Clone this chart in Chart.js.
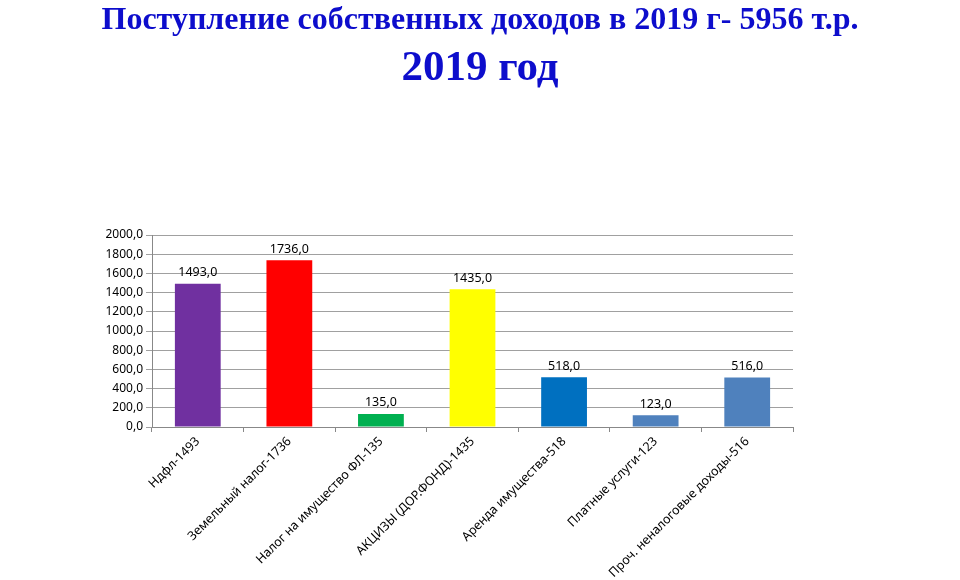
<!DOCTYPE html>
<html>
<head>
<meta charset="utf-8">
<script src="https://cdn.jsdelivr.net/npm/chart.js@4.4.0/dist/chart.umd.min.js"></script>
<style>
  html, body { margin: 0; padding: 0; background: #fff; }
  #wrap { width: 960px; height: 580px; }
</style>
</head>
<body>
<div id="wrap"><canvas id="grafico"></canvas></div>
<script>
// Данные диаграммы
const categories = [
    'Ндфл-1493',
    'Земельный налог-1736',
    'Налог на имущество ФЛ-135',
    'АКЦИЗЫ (ДОР.ФОНД)-1435',
    'Аренда имущества-518',
    'Платные услуги-123',
    'Проч. неналоговые доходы-516'
];
const values = [1493, 1736, 135, 1435, 518, 123, 516];
const barColors = ['#7030A0', '#FF0000', '#00B050', '#FFFF00', '#0070C0', '#4F81BD', '#4F81BD'];
const yTicks = [0, 200, 400, 600, 800, 1000, 1200, 1400, 1600, 1800, 2000];

const fmt = v => Number(v).toFixed(1).replace('.', ',');

// Подписи значений над столбцами
const valueLabels = {
    id: 'valueLabels',
    afterDatasetsDraw(chart) {
        const c = chart.ctx;
        const meta = chart.getDatasetMeta(0);
        c.save();
        c.font = '12.5px "Noto Sans", sans-serif';
        c.fillStyle = '#000';
        c.textAlign = 'center';
        c.textBaseline = 'bottom';
        meta.data.forEach((bar, i) => {
            c.fillText(fmt(values[i]), bar.x, bar.y - 5);
        });
        c.restore();
    }
};

const ctx = document.getElementById('grafico');
new Chart(ctx, {
    type: 'bar',
    data: {
        labels: categories,
        datasets: [{
            data: values,
            backgroundColor: barColors,
            borderWidth: 0,
            categoryPercentage: 1,
            barPercentage: 0.5
        }]
    },
    options: {
        responsive: true,
        maintainAspectRatio: false,
        animation: false,
        layout: { padding: 0 },
        plugins: {
            legend: { display: false },
            tooltip: { enabled: false },
            title: {
                display: true,
                text: 'Поступление собственных доходов в 2019 г- 5956 т.р.',
                color: '#0d0dcc',
                font: { family: '"Liberation Serif", serif', size: 32, weight: 'bold', lineHeight: 1.2 },
                padding: { top: 2, bottom: 0 }
            },
            subtitle: {
                display: true,
                text: '2019 год',
                color: '#0d0dcc',
                font: { family: '"Liberation Serif", serif', size: 43, weight: 'bold', lineHeight: 1.2 },
                padding: { top: 3, bottom: 140 }
            }
        },
        scales: {
            x: {
                grid: { display: true, drawOnChartArea: false, offset: true, tickLength: 5, color: '#888' },
                border: { display: true, color: '#888' },
                ticks: {
                    color: '#000',
                    font: { family: '"Noto Sans", sans-serif', size: 12.5 },
                    minRotation: 45,
                    maxRotation: 45,
                    autoSkip: false,
                    padding: 2
                },
                afterFit(axis) { axis.height = 153; }
            },
            y: {
                min: 0,
                max: 2000,
                afterBuildTicks(axis) { axis.ticks = yTicks.map(v => ({ value: v })); },
                grid: { color: '#a0a0a0', tickLength: 6 },
                border: { display: true, color: '#888' },
                ticks: {
                    color: '#000',
                    font: { family: '"Noto Sans", sans-serif', size: 12 },
                    padding: 3,
                    callback: v => fmt(v)
                },
                afterFit(axis) { axis.width = 152; }
            },
            // пустое поле справа
            yRight: {
                position: 'right',
                min: 0,
                max: 2000,
                grid: { display: false },
                border: { display: false },
                ticks: { display: false },
                afterFit(axis) { axis.width = 167; }
            }
        }
    },
    plugins: [valueLabels]
});
</script>
</body>
</html>
